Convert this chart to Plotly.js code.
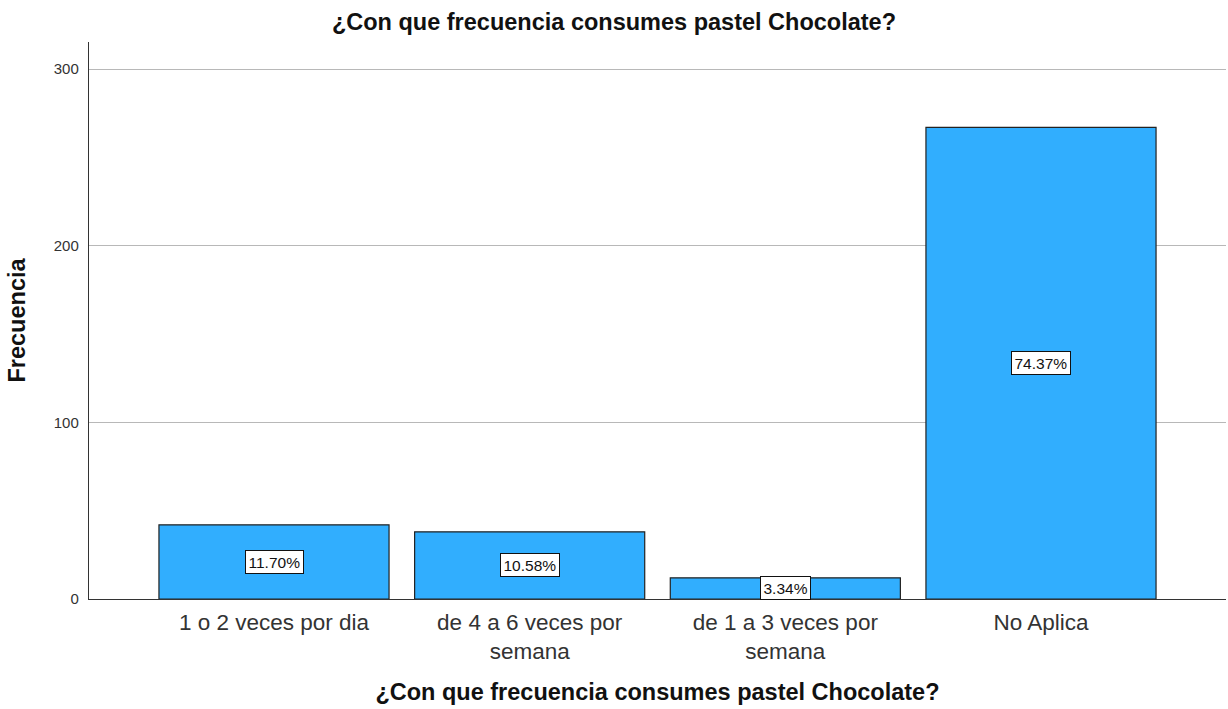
<!DOCTYPE html>
<html>
<head>
<meta charset="utf-8">
<script src="https://cdn.plot.ly/plotly-3.0.1.min.js"></script>
<style>html,body{margin:0;padding:0;background:#fff;}#chart{width:1228px;height:709px;}</style>
</head>
<body>
<div id="chart"></div>
<script>
var categories = ["1 o 2 veces por dia", "de 4 a 6 veces por<br>semana", "de 1 a 3 veces por<br>semana", "No Aplica"];
var frecuencia = [42, 38, 12, 267];
var pctLabels = ["11.70%", "10.58%", "3.34%", "74.37%"];
var chartTitle = "¿Con que frecuencia consumes pastel Chocolate?";
var yTickVals = [0, 100, 200, 300];

var FONT = "Liberation Sans, Arial, sans-serif";

var trace = {
  type: "bar",
  x: categories,
  y: frecuencia,
  width: 0.9,
  marker: {color: "#31AEFE", line: {color: "#222222", width: 1.2}},
  hoverinfo: "x+y"
};

var annotations = categories.map(function (c, i) {
  return {
    x: c, y: frecuencia[i] / 2, xref: "x", yref: "y",
    text: pctLabels[i], showarrow: false,
    font: {family: FONT, size: 15.5, color: "#111"},
    bgcolor: "#ffffff", bordercolor: "#111111", borderwidth: 1, borderpad: 2.5
  };
});

var layout = {
  width: 1228, height: 709,
  margin: {l: 89, r: 2, t: 42, b: 110},
  paper_bgcolor: "#fff", plot_bgcolor: "#fff",
  showlegend: false,
  title: {text: "<b>" + chartTitle + "</b>", x: 0.5, xref: "container", xanchor: "center",
          y: 0.969, yref: "container", yanchor: "middle",
          font: {family: FONT, size: 23.5, color: "#111"}},
  xaxis: {
    type: "category", range: [-0.7236, 3.7236],
    showgrid: false, zeroline: false, showline: true, linecolor: "#333", linewidth: 1.2,
    ticks: "", ticklabelstandoff: 3,
    tickfont: {family: FONT, size: 22.5, color: "#333"},
    title: {text: "<b>" + chartTitle + "</b>", standoff: 20, font: {family: FONT, size: 23.5, color: "#111"}}
  },
  yaxis: {
    range: [0, 315.3], tickvals: yTickVals, ticktext: yTickVals.map(String),
    showgrid: true, gridcolor: "#b8b8b8", gridwidth: 1, zeroline: false,
    showline: true, linecolor: "#333", linewidth: 1.2, ticks: "",
    tickfont: {family: FONT, size: 15, color: "#333"}, ticklabelstandoff: 6,
    title: {text: "<b>Frecuencia</b>", standoff: 21, font: {family: FONT, size: 23.5, color: "#111"}}
  },
  annotations: annotations
};

Plotly.newPlot("chart", [trace], layout, {displayModeBar: false, staticPlot: true});
</script>
</body>
</html>
